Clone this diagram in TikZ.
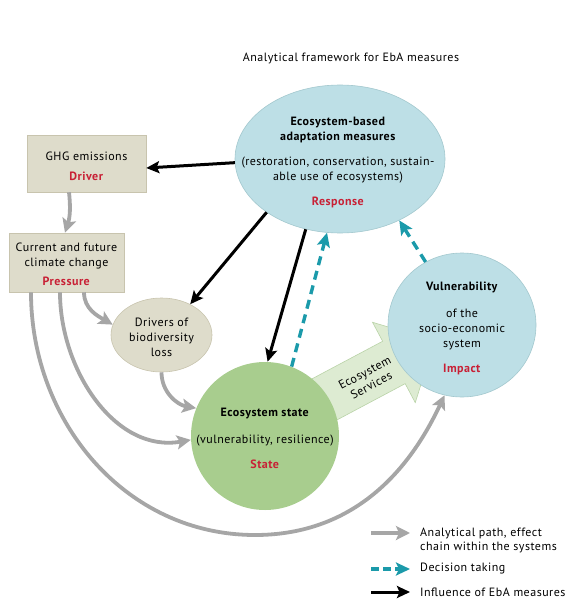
\documentclass[tikz,border=0pt]{standalone}
\usepackage{fontspec}
\setmainfont{PT Sans}[LetterSpace=4]
\usetikzlibrary{arrows.meta,calc,shapes.geometric}
\definecolor{ebared}{HTML}{C82035}
\definecolor{ebagray}{HTML}{A6A6A6}
\definecolor{ebateal}{HTML}{1B9AAA}
\definecolor{ebabeige}{HTML}{DEDCCB}
\definecolor{ebabeigeb}{HTML}{C8C4AE}
\definecolor{ebablue}{HTML}{BDDFE6}
\definecolor{ebablueb}{HTML}{A3C8CE}
\definecolor{ebagreen}{HTML}{A8CD8E}
\definecolor{ebalgreen}{HTML}{DDEBD2}
\definecolor{ebalgreenb}{HTML}{B9D3A7}
\tikzset{
  boxnode/.style={draw=ebabeigeb, fill=ebabeige, line width=0.6pt, inner sep=0pt},
  ovalnode/.style={ellipse, inner sep=0pt, line width=0.6pt},
  txt/.style={align=center, inner sep=0pt, font=\fontsize{12}{15}\selectfont},
  grayarrow/.style={draw=ebagray, line width=3.8pt, -{Stealth[length=14pt,width=14pt,inset=3pt]}},
  blackarrow/.style={draw=black, line width=3pt, -{Stealth[length=13pt,width=12pt,inset=2.5pt]}},
  tealarrow/.style={draw=ebateal, line width=3.4pt, dash pattern=on 9pt off 6pt, -{Stealth[length=14pt,width=13pt,inset=3pt]}},
}
\begin{document}
\begin{tikzpicture}[x=1pt,y=-1pt]
\useasboundingbox (0,0) rectangle (575,599);

% title
\node[txt] (title) at (351,58) {Analytical framework for EbA measures};

% ecosystem services block arrow (below circles)
\begin{scope}[shift={(265,431)}, rotate=28]
  \draw[fill=ebalgreen, draw=ebalgreenb, line width=0.6pt]
    (0,-24) -- (146,-24) -- (146,-45.5) -- (192,0) -- (146,45.5) -- (146,24) -- (0,24) -- cycle;
\end{scope}
\node[txt, rotate=28, font=\fontsize{12}{14}\selectfont] (es) at (368,379) {Ecosystem\\Services};

% shapes
\node[ovalnode, draw=ebablueb, fill=ebablue, minimum width=210pt, minimum height=148pt] (resp) at (340,159) {};
\node[boxnode, minimum width=119pt, minimum height=57pt] (ghg) at (86.5,163.5) {};
\node[boxnode, minimum width=115pt, minimum height=59pt] (prs) at (66.5,262.5) {};
\node[ovalnode, draw=ebabeigeb, fill=ebabeige, minimum width=101pt, minimum height=74pt] (drv) at (161.5,335) {};
\node[ovalnode, fill=ebagreen, minimum width=148pt, minimum height=148pt] (state) at (265,436) {};
\node[ovalnode, draw=ebablueb, fill=ebablue, minimum width=148pt, minimum height=144pt] (vul) at (462,325) {};

% texts
\node[txt] (resptxt) at (338,162) {\textbf{Ecosystem-based}\\\textbf{adaptation measures}\\[10pt](restoration, conservation, sustain-\\able use of ecosystems)\\[10pt]{\color{ebared}\textbf{Response}}};
\node[txt] (ghgtxt) at (86.5,166) {GHG emissions\\[5pt]{\color{ebared}\textbf{Driver}}};
\node[txt] (prstxt) at (66.5,264) {Current and future\\climate change\\[4pt]{\color{ebared}\textbf{Pressure}}};
\node[txt] (drvtxt) at (161.5,337) {Drivers of\\biodiversity\\loss};
\node[txt] (statetxt) at (265,438) {\textbf{Ecosystem state}\\[12pt](vulnerability, resilience)\\[10pt]{\color{ebared}\textbf{State}}};
\node[txt] (vultxt) at (462,328.5) {\textbf{Vulnerability}\\[12pt]of the\\socio-economic\\system\\[10pt]{\color{ebared}\textbf{Impact}}};

% gray analytical arrows
\coordinate (low) at (255,535);
\draw[grayarrow] ($(ghg.south)+(-17.5,0)$) to[bend left=12] ($(prs.north)+(-1.5,0)$);
\draw[grayarrow] ($(prs.south)+(17.5,0)$) to[out=270,in=150] (drv.168);
\draw[grayarrow] ($(prs.south)+(-6.5,0)$) to[out=270,in=190] (state.183);
\draw[grayarrow] ($(prs.south)+(-35.5,0)$) to[out=270,in=180] (low) to[out=0,in=245] (vul.256);
\draw[grayarrow] (drv.270) to[out=270,in=170] (state.158);

% black influence arrows
\draw[blackarrow] (resp.182) -- ($(ghg.east)+(0,4.5)$);
\draw[blackarrow] (resp.216) -- (drv.47);
\draw[blackarrow] (resp.244) -- (state.88);

% teal decision arrows
\draw[tealarrow] (state.69) -- (resp.260);
\draw[tealarrow] (vul.120) -- (resp.314);

% legend
\coordinate (l1a) at (371,533); \coordinate (l1b) at (410,533);
\coordinate (l2a) at (371,569); \coordinate (l2b) at (410,569);
\coordinate (l3a) at (371,592); \coordinate (l3b) at (410,592);
\draw[grayarrow] (l1a) -- (l1b);
\draw[tealarrow, dash pattern=on 8pt off 4pt] (l2a) -- (l2b);
\draw[blackarrow] (l3a) -- (l3b);
\node[txt, anchor=west, align=left, font=\fontsize{12}{14}\selectfont] (leg1) at (420,540) {Analytical path, effect\\chain within the systems};
\node[txt, anchor=west] (leg2) at (420,569) {Decision taking};
\node[txt, anchor=west] (leg3) at (420,592) {Influence of EbA measures};
\end{tikzpicture}
\end{document}
